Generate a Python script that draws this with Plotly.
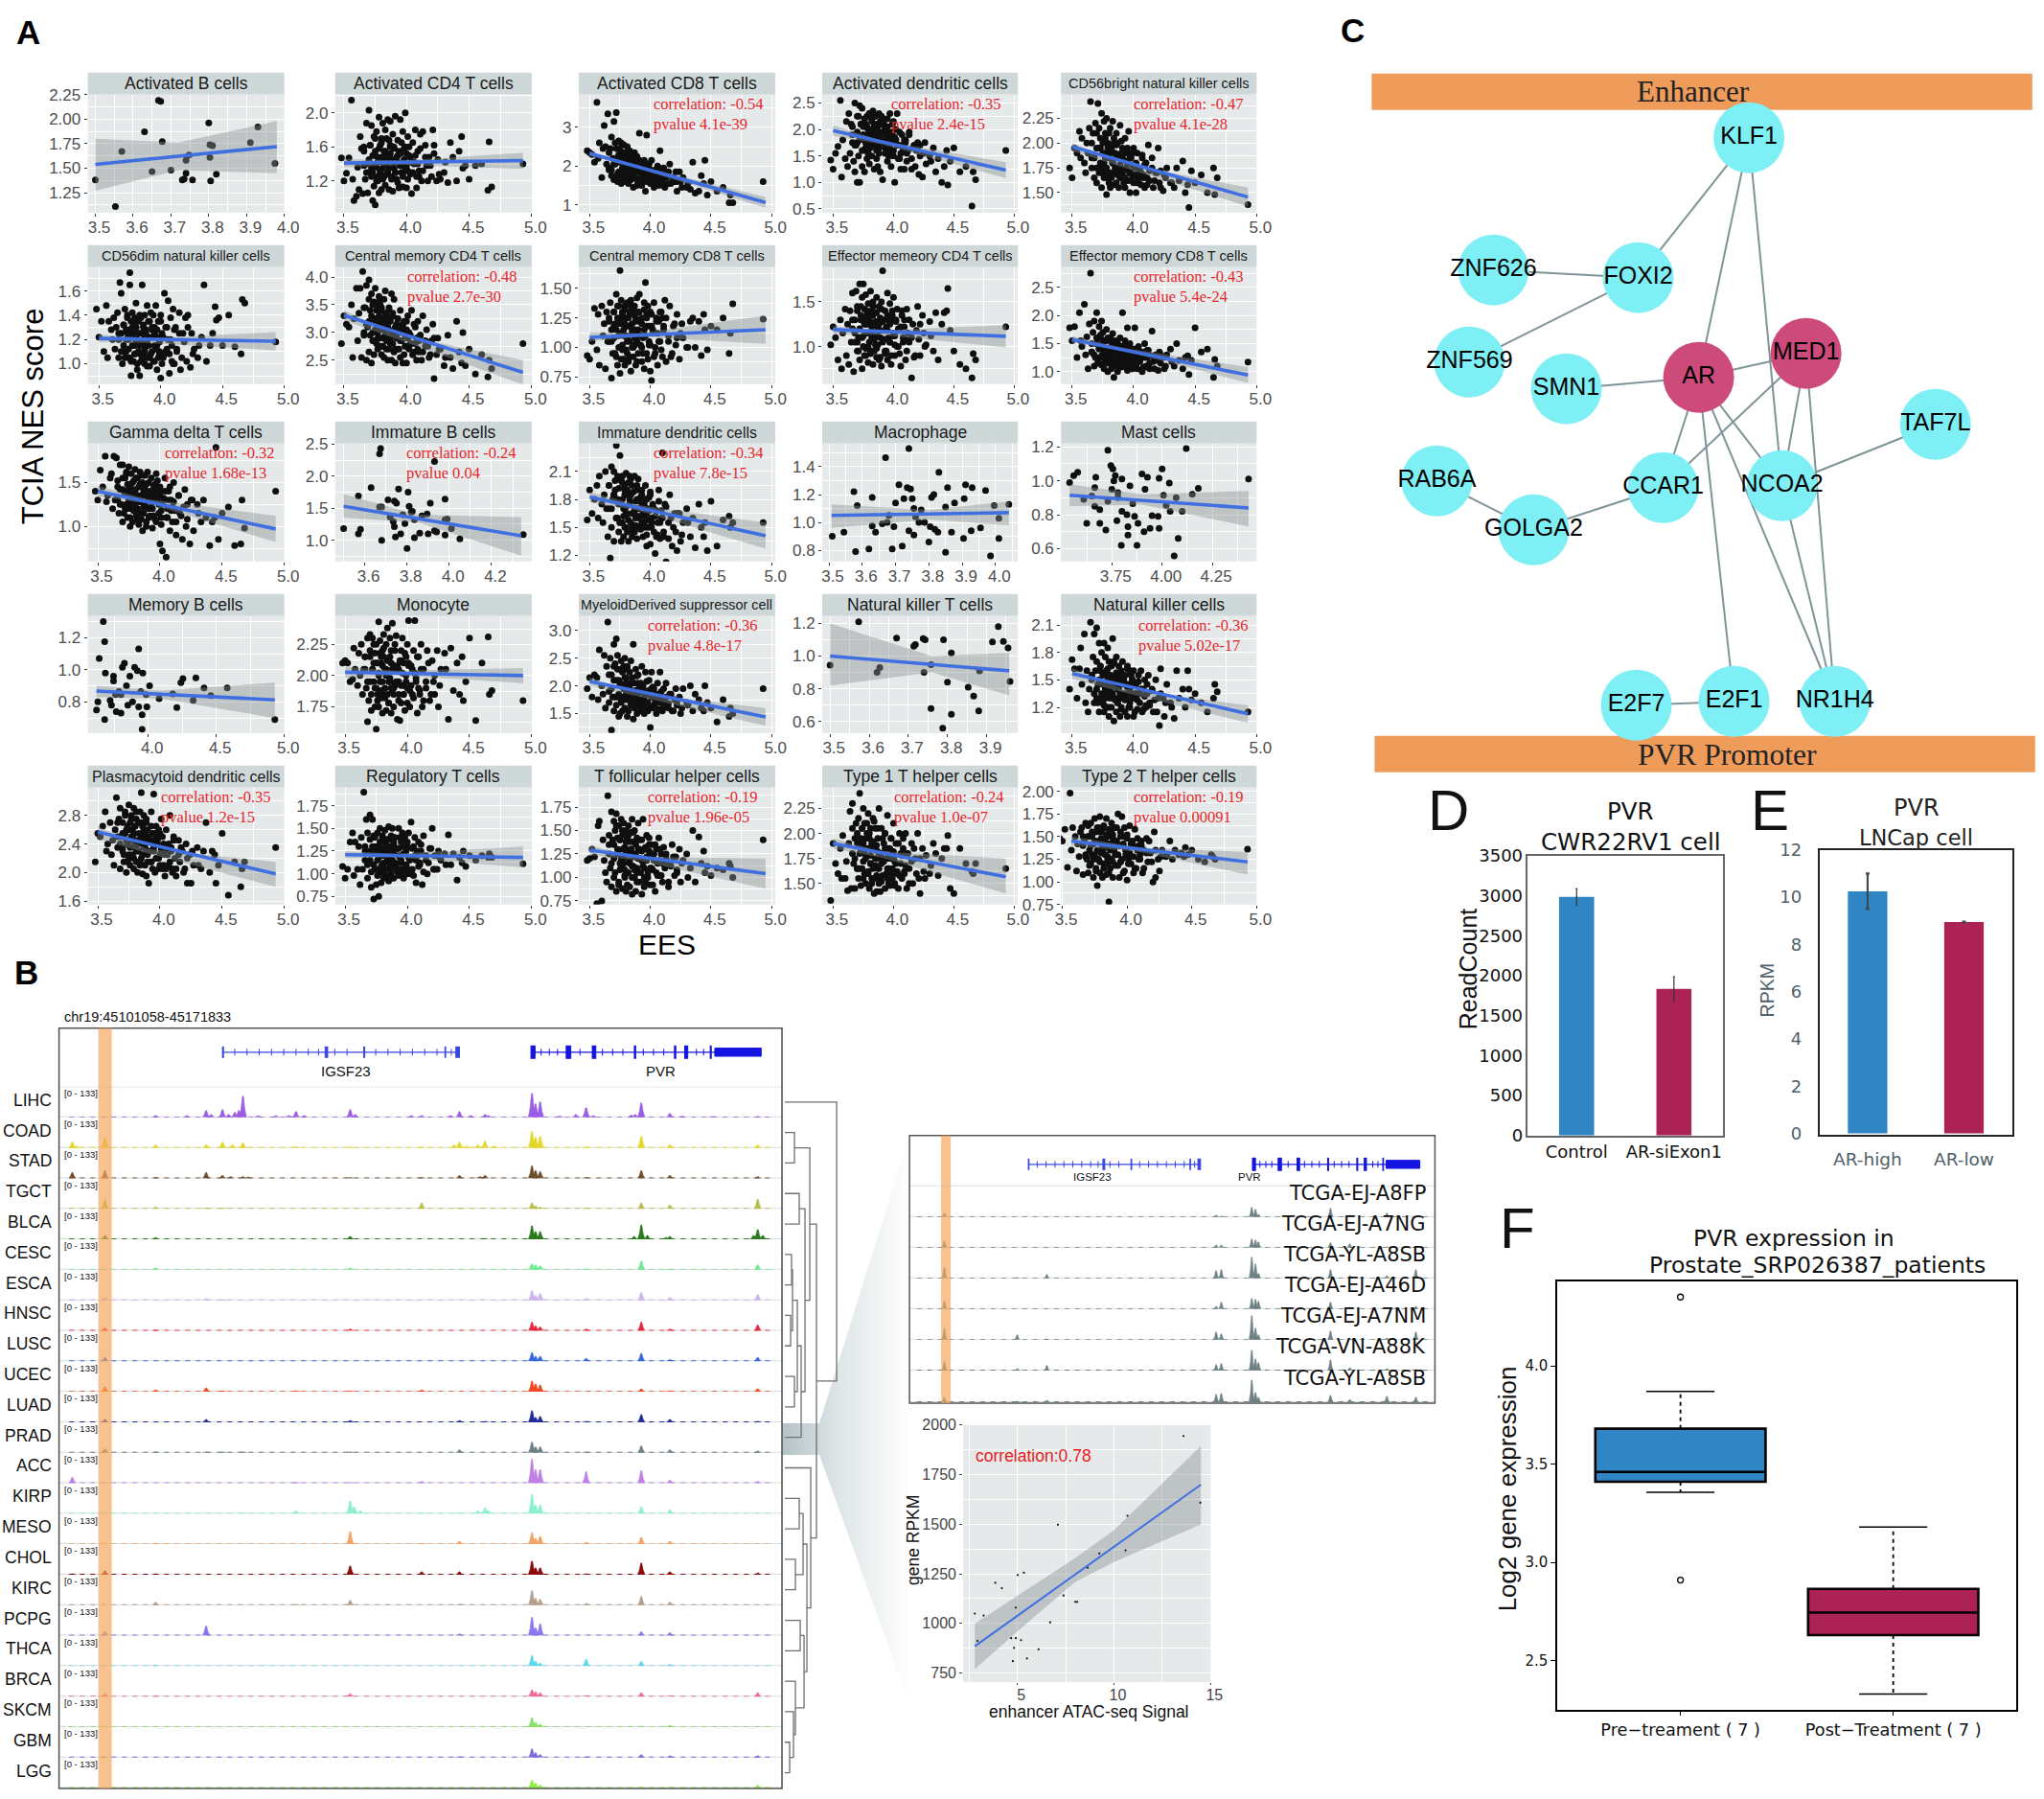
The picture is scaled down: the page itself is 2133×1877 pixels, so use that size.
import plotly.graph_objects as go

W, H = 2133, 1877
SANS = "Liberation Sans, Arial"
NARROW = SANS
WIDE = "DejaVu Sans"
SERIF = "Liberation Serif, serif"

# ---------- Panel A data ----------
EES = [3.48,3.50,3.52,3.54,3.56,3.57,3.58,3.60,3.61,3.62,
3.63,3.64,3.65,3.66,3.67,3.68,3.68,3.69,3.70,3.70,
3.71,3.72,3.72,3.73,3.74,3.74,3.75,3.75,3.76,3.76,
3.77,3.77,3.78,3.78,3.79,3.79,3.80,3.80,3.81,3.81,
3.82,3.82,3.83,3.83,3.84,3.84,3.85,3.85,3.86,3.86,
3.87,3.87,3.88,3.88,3.89,3.89,3.90,3.90,3.91,3.92,
3.93,3.93,3.94,3.95,3.95,3.96,3.97,3.97,3.98,3.99,
4.00,4.00,4.01,4.02,4.03,4.04,4.05,4.06,4.07,4.08,
4.09,4.10,4.11,4.12,4.13,4.15,4.16,4.18,4.20,4.21,
4.22,4.24,4.25,4.27,4.30,4.33,4.35,4.37,4.40,4.42,
4.44,4.45,4.47,4.50,4.55,4.60,4.65,4.66,4.68,4.93,
3.66,3.70,3.73,3.75,3.77,3.79,3.81,3.83,3.85,3.87,
3.89,3.91,3.93,3.95,3.97,3.99,4.01,4.03,4.06,4.10,
3.66,3.68,3.70,3.71,3.72,3.73,3.74,3.75,3.76,3.77,
3.78,3.79,3.80,3.80,3.81,3.82,3.83,3.84,3.85,3.86,
3.86,3.87,3.88,3.89,3.90,3.91,3.92,3.93,3.94,3.95,
3.96,3.97,3.98,3.99,4.00,4.01,4.02,4.04,4.05,4.07,
4.08,4.09,4.11,4.13,4.15,4.17,4.19,4.22,4.26,4.31]

ACT_B_X = [3.5,3.553,3.57,3.63,3.65,3.667,3.673,3.677,3.70,3.73,3.735,3.74,3.74,3.748,3.757,3.80,3.803,3.803,3.81,3.805,3.82,3.91,3.93,3.975]
ACT_B_Y = [1.38,1.11,1.67,1.87,1.465,2.19,2.18,1.77,1.48,1.38,1.39,1.58,1.45,1.635,1.38,1.96,1.61,1.74,1.73,1.37,1.44,1.76,1.92,1.55]

ACT_CD4 = [1.47,1.20,1.29,1.47,2.15,1.22,0.97,1.02,1.36,1.10,
1.72,1.58,1.05,1.60,1.22,1.88,1.40,1.06,2.03,1.30,
1.62,1.35,1.85,0.97,1.72,1.14,1.50,0.92,1.36,1.78,
1.20,1.48,1.95,1.06,1.62,1.30,1.10,1.70,1.42,1.88,
1.25,1.55,1.80,1.15,1.40,1.70,1.92,1.30,1.48,1.10,
1.62,1.90,1.22,1.45,1.75,1.08,1.35,1.58,1.96,1.22,
1.68,1.42,1.12,1.92,1.52,1.30,1.78,1.13,1.58,2.00,
1.38,1.12,1.72,1.50,1.28,1.05,1.65,1.42,1.80,1.12,
1.55,1.32,1.75,1.20,1.78,1.62,1.38,1.48,1.25,1.80,
1.62,1.20,1.45,1.22,1.30,1.18,1.65,1.48,1.20,1.55,
1.72,1.35,1.38,1.22,1.38,1.40,1.09,1.66,1.13,1.40,
1.38,1.42,1.30,1.55,1.25,1.45,1.35,1.50,1.28,1.60,
1.42,1.30,1.50,1.38,1.25,1.60,1.32,1.48,1.40,1.25,
1.55,1.30,1.45,1.62,1.25,1.50,1.38,1.70,1.20,1.42,
1.58,1.32,1.48,1.65,1.22,1.40,1.55,1.28,1.45,1.68,
1.35,1.52,1.25,1.42,1.60,1.30,1.48,1.18,1.55,1.38,
1.65,1.28,1.45,1.35,1.52,1.22,1.60,1.42,1.30,1.50,
1.25,1.40,1.58,1.32,1.48,1.20,1.38,1.52,1.28,1.42]
ACT_CD8 = [2.40,2.35,2.30,2.10,3.65,2.20,2.60,1.70,2.45,3.05,
2.50,2.05,3.35,1.95,2.45,1.75,2.75,2.20,3.15,1.65,
2.60,3.38,2.10,1.60,2.65,1.85,2.45,2.25,1.55,2.60,
1.95,2.35,1.75,2.55,2.10,1.60,2.30,1.90,2.50,1.70,
2.15,1.55,2.40,1.80,2.05,1.65,2.30,1.95,1.45,2.20,
1.70,2.35,1.85,2.10,1.50,2.25,1.95,1.65,2.85,1.80,
2.10,1.50,1.95,1.75,2.15,1.35,2.80,1.85,1.60,2.05,
1.55,1.90,2.15,1.70,1.45,1.90,1.65,2.00,1.50,2.40,
1.75,1.60,1.95,1.45,1.80,1.55,2.05,1.70,1.60,1.85,
1.35,1.85,1.60,1.70,1.45,1.40,2.10,1.30,1.35,1.75,
1.55,2.15,1.25,1.60,1.35,1.45,1.05,1.25,1.05,1.60,
1.90,2.05,1.80,2.20,1.70,2.10,1.85,1.95,1.75,2.05,
1.65,1.90,1.80,1.70,1.95,1.60,1.85,1.55,1.75,1.65,
2.35,1.90,2.20,2.05,2.45,1.75,2.30,2.10,1.85,2.25,
1.95,2.35,2.05,1.70,2.20,1.85,2.30,1.95,2.10,1.70,
2.25,1.80,2.05,1.90,1.65,2.15,1.85,2.00,1.75,1.60,
1.95,1.80,2.05,1.65,1.90,1.75,1.55,1.85,1.70,1.95,
1.60,1.80,1.50,1.70,1.85,1.55,1.70,1.60,1.45,1.55]
ACT_DC = [1.42,1.25,1.55,1.68,2.55,1.10,1.80,1.45,2.15,1.30,
2.30,1.55,2.10,1.75,1.40,2.50,1.20,1.70,1.00,2.25,
1.50,1.00,2.45,1.85,1.30,2.40,1.60,2.05,1.20,2.20,
1.75,2.10,1.45,2.25,1.90,1.60,2.30,1.35,2.00,1.70,
2.20,1.50,1.85,2.35,1.25,2.05,1.70,2.25,1.45,2.10,
1.95,1.30,2.30,1.65,2.15,1.20,1.80,2.25,1.05,2.10,
1.55,2.00,1.75,2.20,1.40,1.95,1.60,2.30,1.30,1.85,
1.50,2.15,1.00,1.80,2.30,1.45,1.95,1.25,1.70,1.60,
1.25,1.80,1.40,1.60,1.90,1.25,1.65,1.30,1.75,1.15,
1.70,1.10,1.55,1.35,1.50,1.65,1.20,1.45,1.00,1.30,
1.60,0.95,1.40,1.65,1.20,1.30,0.55,1.20,1.05,1.60,
1.90,1.75,2.10,1.85,1.65,2.00,1.80,1.95,1.70,2.05,
1.90,1.75,2.05,1.85,1.65,1.95,1.80,1.70,1.55,1.75,
2.05,1.70,1.95,2.25,1.80,2.10,1.60,1.90,2.20,1.75,
2.05,1.55,2.30,1.85,1.65,2.15,1.95,1.75,2.25,1.60,
2.00,1.85,1.55,2.10,1.75,1.95,2.20,1.65,1.85,2.05,
1.50,1.90,1.75,2.10,1.60,1.85,2.00,1.70,1.45,1.90,
1.65,1.80,1.55,1.95,1.45,1.70,1.60,1.50,1.75,1.40]
CD56BRIGHT = [1.75,1.65,1.95,1.90,2.12,1.85,2.05,1.80,1.70,2.00,
1.90,2.15,2.42,1.75,2.10,1.65,1.85,2.20,1.60,1.95,
2.40,1.70,2.15,1.80,2.30,1.55,2.00,1.75,2.22,1.65,
1.90,2.10,1.48,2.25,1.70,2.00,1.60,1.85,2.15,1.55,
1.95,1.65,2.22,1.80,1.58,2.05,1.75,1.90,1.60,2.10,
1.70,2.00,1.55,1.85,2.18,1.65,1.90,1.75,1.95,1.60,
2.05,1.55,1.75,1.90,1.62,2.12,1.70,1.50,1.85,1.65,
1.95,1.60,1.78,1.50,1.90,1.65,1.72,1.58,1.85,1.68,
1.55,1.80,1.65,1.98,1.62,1.75,1.55,1.70,1.95,1.60,
1.72,1.52,1.68,1.75,1.60,1.55,1.75,1.62,1.82,1.50,
1.58,1.35,1.72,1.60,1.68,1.50,1.75,1.48,1.65,1.38,
1.85,1.75,1.95,1.70,1.85,1.65,1.90,1.80,1.70,1.85,
1.75,1.85,1.65,1.80,1.70,1.90,1.75,1.60,1.70,1.80,
2.00,1.85,2.10,1.75,1.95,2.05,1.70,1.90,1.80,2.05,
1.75,1.95,1.85,2.10,1.70,1.92,1.80,2.00,1.72,1.88,
1.98,1.68,1.85,1.78,2.02,1.70,1.90,1.65,1.82,1.95,
1.72,1.85,1.62,1.78,1.92,1.68,1.80,1.60,1.75,1.88,
1.65,1.78,1.58,1.72,1.85,1.62,1.70,1.55,1.65,1.60]
CD56DIM = [1.45,1.22,1.35,1.10,1.48,1.05,1.35,1.28,1.20,1.38,
1.12,1.30,1.42,1.05,1.67,1.25,1.58,1.00,1.32,1.15,
1.45,1.10,1.28,1.40,1.05,1.20,1.75,1.65,0.90,1.35,
1.15,1.42,1.02,1.25,1.38,1.08,1.30,1.50,0.95,1.20,
1.35,1.10,0.90,1.40,1.25,1.02,1.65,1.18,1.32,1.08,
1.40,1.00,1.28,1.15,1.48,1.05,1.35,1.22,0.98,1.42,
1.10,1.30,1.40,1.02,1.25,1.48,1.15,0.95,1.35,1.08,
0.88,1.40,1.22,1.05,1.58,1.30,1.12,1.52,0.92,1.38,
1.15,1.45,1.00,1.30,1.10,1.42,0.95,1.25,1.38,1.02,
1.40,0.97,1.25,1.12,1.05,1.22,1.65,1.02,1.15,1.25,
1.47,1.36,1.38,1.15,1.40,1.14,1.08,1.53,1.50,1.18,
1.20,1.10,1.25,1.05,1.30,1.15,1.20,1.08,1.25,1.12,
1.18,1.05,1.28,1.15,1.22,1.10,1.25,1.08,1.20,1.00,
1.25,1.10,1.32,1.05,1.20,1.38,1.12,1.28,1.02,1.22,
1.35,1.08,1.18,1.30,1.00,1.25,1.15,1.38,1.05,1.20,
1.30,1.10,1.25,0.98,1.15,1.35,1.08,1.22,1.02,1.30,
1.12,1.28,1.05,1.18,1.35,1.00,1.22,1.10,1.30,1.08,
1.20,1.02,1.28,1.12,1.25,1.05,1.18,1.30,1.08,1.15]
CM_CD4 = [2.80,3.30,3.15,3.10,3.50,2.55,3.25,3.80,2.85,3.35,
3.80,2.55,4.10,2.95,3.45,2.50,3.85,3.10,3.95,2.65,
3.40,2.45,3.70,3.00,2.60,3.55,3.25,3.80,2.80,3.50,
3.10,2.70,3.65,3.30,2.90,3.50,2.60,3.40,3.05,2.75,
3.60,2.55,3.20,3.75,2.85,3.30,2.50,3.10,3.45,2.70,
3.25,2.90,3.70,2.50,3.35,2.80,3.05,3.60,2.45,3.15,
2.70,3.25,3.00,2.55,3.40,2.85,3.10,2.45,3.20,2.75,
3.05,2.45,3.30,2.70,2.95,3.40,2.60,3.15,2.80,2.50,
3.20,2.65,2.95,2.50,3.30,2.75,3.05,2.55,2.85,3.15,
2.17,2.60,2.90,2.70,2.40,2.95,2.55,2.35,3.20,2.65,
2.45,3.00,2.40,2.70,2.25,2.60,2.20,2.50,2.35,2.80,
3.00,3.20,2.85,3.05,2.90,3.15,2.75,2.95,3.10,2.80,
2.95,2.70,3.05,2.85,3.00,2.75,2.90,2.80,2.65,2.85,
3.45,3.15,3.60,2.95,3.30,3.50,2.85,3.20,3.40,3.00,
3.55,2.75,3.25,3.45,2.90,3.15,3.35,2.70,3.05,3.40,
2.85,3.20,3.00,3.30,2.65,3.10,2.90,3.25,2.70,3.05,
2.85,3.15,2.60,2.95,3.20,2.75,3.00,2.80,2.60,3.10,
2.90,2.70,2.95,2.65,2.85,2.75,2.60,2.90,2.70,2.55]
CM_CD8 = [0.93,0.90,1.05,1.33,0.98,1.28,0.85,1.35,1.10,1.20,
0.82,1.30,1.05,1.22,1.38,0.74,1.15,0.95,1.30,1.08,
1.20,0.92,1.45,0.85,1.10,1.35,1.65,0.78,1.25,1.40,
1.02,1.30,0.90,1.15,1.35,0.85,1.10,1.25,0.95,1.38,
1.18,0.88,1.30,1.05,1.40,0.80,1.20,1.00,1.32,0.92,
1.15,1.35,0.85,1.25,1.05,1.42,0.95,1.30,1.45,1.10,
0.88,1.25,1.08,1.38,0.82,1.55,1.18,0.95,1.35,1.02,
1.30,0.80,0.72,1.15,1.38,1.00,1.25,0.85,1.22,1.05,
1.30,0.92,1.18,1.40,0.88,1.10,1.35,0.95,1.20,1.02,
1.28,0.90,1.12,1.08,1.00,1.22,1.25,1.00,1.22,0.93,
1.28,1.15,0.98,1.18,1.15,1.25,0.95,1.12,1.37,1.24,
1.05,1.18,1.25,1.12,0.98,1.20,1.08,1.28,1.15,1.02,
1.10,1.22,1.00,1.15,1.28,1.05,1.18,0.92,1.12,1.25,
1.25,1.05,1.30,0.95,1.15,1.35,1.00,1.20,0.90,1.28,
1.10,1.32,0.98,1.18,1.05,1.25,0.92,1.35,1.12,1.00,
1.28,1.08,1.22,0.88,1.15,1.30,1.02,1.20,0.95,1.32,
1.10,1.25,0.90,1.18,1.02,1.28,1.12,0.95,1.22,1.05,
1.30,0.98,1.15,1.25,1.05,0.92,1.18,1.08,1.20,1.00]
EM_CD4 = [1.02,1.22,1.10,0.85,1.30,0.75,1.15,1.42,0.90,1.25,
0.80,1.40,1.05,1.60,0.72,1.30,1.15,1.62,0.95,1.45,
1.10,1.70,0.85,1.35,1.55,0.75,1.70,1.00,1.25,1.42,
0.90,1.58,1.15,1.35,0.82,1.48,1.05,1.30,1.62,0.95,
1.40,1.10,0.80,1.50,1.25,0.95,1.38,1.12,1.55,0.88,
1.28,1.02,1.45,0.85,1.32,1.18,0.78,1.50,1.85,1.08,
0.92,1.40,1.22,1.60,0.85,1.30,1.05,1.48,0.80,1.35,
1.12,1.55,0.90,1.28,1.42,1.00,1.20,0.78,1.40,1.10,
1.30,0.85,1.42,1.15,1.05,0.65,1.25,0.90,1.45,1.08,
0.90,1.35,1.15,1.02,1.28,0.95,1.38,0.85,1.25,1.38,
1.40,1.65,1.18,0.95,0.80,0.75,0.65,0.92,0.85,1.22,
1.20,1.05,1.30,1.12,0.98,1.25,1.15,1.35,1.02,1.20,
1.10,1.28,0.95,1.18,1.05,1.30,1.12,1.00,1.22,1.08,
1.30,1.05,1.40,0.95,1.20,1.45,1.10,1.30,0.90,1.25,
1.40,1.00,1.15,1.35,0.92,1.22,1.45,1.08,1.28,0.98,
1.38,1.12,1.25,0.88,1.42,1.05,1.30,1.18,0.95,1.35,
1.10,1.25,0.90,1.40,1.15,1.02,1.30,1.20,0.92,1.35,
1.05,1.22,0.95,1.30,1.10,0.88,1.18,1.25,1.00,1.12]
EM_CD8 = [1.78,1.55,1.80,1.25,2.05,1.55,1.45,2.20,1.30,1.62,
1.05,1.85,2.75,1.35,1.70,1.10,1.90,1.25,2.05,1.50,
1.15,1.80,1.40,1.60,1.12,1.90,1.30,1.70,1.05,1.55,
1.40,1.20,1.75,1.30,1.00,1.60,1.35,1.15,1.55,1.25,
1.45,1.05,1.68,1.20,0.90,1.40,1.30,1.55,1.10,1.25,
1.50,1.00,1.35,1.15,1.60,1.25,1.45,1.08,2.05,1.30,
1.10,1.48,1.20,1.78,1.02,1.35,1.15,1.50,1.25,1.05,
1.40,1.15,1.78,1.28,1.05,1.45,1.20,1.35,1.00,1.28,
1.50,1.10,1.25,1.38,1.05,1.72,1.18,1.30,1.02,1.35,
1.15,1.25,1.05,1.30,1.40,1.10,1.50,1.20,1.05,1.25,
1.28,0.95,1.20,1.78,1.35,1.40,0.90,1.22,1.10,1.17,
1.35,1.50,1.25,1.40,1.18,1.30,1.42,1.22,1.35,1.15,
1.28,1.40,1.20,1.32,1.12,1.25,1.38,1.18,1.28,1.08,
1.50,1.30,1.60,1.20,1.42,1.65,1.28,1.50,1.15,1.38,
1.55,1.22,1.42,1.30,1.60,1.12,1.35,1.48,1.20,1.40,
1.25,1.50,1.10,1.35,1.45,1.18,1.30,1.55,1.08,1.28,
1.42,1.15,1.35,1.05,1.25,1.40,1.12,1.30,1.18,1.35,
1.08,1.25,1.38,1.15,1.28,1.05,1.20,1.30,1.10,1.18]
GAMMA_DELTA = [1.40,1.30,1.64,1.45,1.80,1.28,1.35,1.55,1.60,1.20,
1.80,1.30,1.78,1.52,1.15,1.42,1.70,1.25,1.70,1.05,
1.40,1.55,1.20,1.62,1.10,1.48,1.30,1.68,1.00,1.45,
1.25,1.60,1.35,1.05,1.52,1.18,1.42,1.65,1.12,1.30,
1.55,1.20,1.02,1.45,1.35,1.62,1.08,1.28,1.50,0.95,
1.40,1.15,1.58,1.25,1.00,1.48,1.30,1.62,1.10,1.40,
1.22,1.55,0.98,1.35,1.12,1.48,1.60,1.05,1.30,1.40,
0.80,1.45,1.10,0.72,1.30,1.55,0.65,1.20,1.40,0.95,
1.30,1.05,1.50,1.18,0.90,1.35,1.15,0.85,1.42,1.00,
1.25,0.80,1.30,0.95,1.25,1.05,1.30,1.10,0.78,1.05,
1.10,1.90,0.85,1.15,1.22,0.78,0.80,1.30,0.98,1.40,
1.30,1.42,1.25,1.38,1.20,1.35,1.15,1.28,1.45,1.22,
1.35,1.20,1.30,1.12,1.40,1.25,1.18,1.32,1.10,1.22,
1.45,1.25,1.55,1.15,1.38,1.60,1.20,1.42,1.10,1.32,
1.50,1.18,1.40,1.25,1.55,1.08,1.30,1.48,1.15,1.35,
1.58,1.22,1.42,1.05,1.30,1.50,1.12,1.35,1.20,1.45,
1.08,1.28,1.52,1.15,1.35,1.02,1.25,1.40,1.10,1.30,
1.45,1.18,1.28,1.05,1.35,1.12,1.22,1.08,1.30,1.15]
IMM_B_X = [3.5,3.57,3.58,3.57,3.63,3.67,3.675,3.68,3.67,3.68,3.71,3.74,3.75,3.745,3.74,3.72,3.76,3.735,3.77,3.8,3.805,3.81,3.82,3.79,3.78,3.825,3.835,3.835,3.86,3.87,3.895,3.91,3.93,3.9,3.94,3.98,3.98,3.99,3.98,4.01,4.05,4.35,3.93]
IMM_B_Y = [1.18,1.69,1.17,1.10,1.82,2.35,2.43,1.0,1.52,1.52,1.63,1.61,1.58,1.05,1.21,1.36,1.8,1.29,1.1,0.87,1.75,1.53,1.44,1.26,1.4,1.45,1.32,1.04,1.11,1.38,1.41,1.58,2.23,1.1,1.13,1.64,1.32,1.33,1.08,1.18,1.02,1.09,1.15]
IMM_DC = [1.58,1.90,1.65,1.80,1.95,1.60,2.05,1.75,1.55,1.85,
2.10,1.70,1.40,1.95,1.17,2.15,1.50,1.80,2.10,1.35,
1.90,2.38,1.60,2.05,1.45,1.75,2.27,1.55,2.00,1.35,
1.80,2.05,1.40,1.70,1.95,1.50,2.08,1.65,1.85,1.45,
1.98,1.35,1.75,2.05,1.55,1.85,1.40,1.95,1.65,1.50,
2.05,1.45,1.78,1.60,1.90,1.38,1.70,2.02,1.50,1.82,
1.55,1.90,1.40,1.75,1.62,1.95,1.30,1.80,1.50,1.68,
1.85,1.32,1.60,1.75,1.45,1.22,1.68,1.55,1.90,1.38,
1.60,2.30,1.40,1.75,1.13,1.55,1.85,1.30,1.65,1.45,
1.25,1.65,1.35,1.55,1.70,1.40,1.60,1.28,1.75,1.50,
1.40,1.55,1.25,1.78,1.30,1.58,1.62,1.50,1.55,1.55,
1.70,1.85,1.60,1.78,1.55,1.90,1.65,1.75,1.50,1.68,
1.80,1.60,1.72,1.50,1.65,1.82,1.55,1.70,1.42,1.60,
1.95,1.70,1.85,2.00,1.60,1.80,1.92,1.55,1.75,1.98,
1.62,1.85,1.50,1.72,1.90,1.58,1.80,2.02,1.65,1.45,
1.88,1.70,1.52,1.95,1.62,1.78,1.48,1.85,1.65,1.55,
1.80,1.42,1.70,1.58,1.88,1.50,1.72,1.62,1.40,1.78,
1.55,1.68,1.45,1.72,1.38,1.60,1.50,1.65,1.42,1.55]
MACRO_X = [3.51,3.545,3.575,3.58,3.585,3.62,3.63,3.63,3.64,3.66,3.67,3.675,3.68,3.69,3.695,3.70,3.71,3.72,3.725,3.735,3.74,3.745,3.74,3.75,3.755,3.755,3.76,3.77,3.777,3.787,3.80,3.804,3.808,3.815,3.818,3.83,3.827,3.85,3.85,3.856,3.868,3.877,3.904,3.906,3.91,3.927,3.93,3.955,3.97,3.985,3.996,4.01,4.01,4.04]
MACRO_Y = [0.90,0.93,1.22,0.79,1.12,0.81,1.18,0.975,0.93,0.99,1.465,1.0,1.05,0.81,0.97,1.14,1.27,0.83,1.17,1.25,1.53,1.24,0.94,1.17,0.91,1.10,1.04,1.0,1.09,1.0,0.86,0.97,1.18,1.2,0.95,1.36,0.93,1.11,0.785,1.25,0.93,1.14,0.885,1.17,1.27,0.94,1.25,0.96,1.23,0.76,1.12,0.885,1.03,1.13]
MAST_X = [3.54,3.56,3.58,3.61,3.625,3.65,3.665,3.665,3.67,3.69,3.69,3.72,3.73,3.73,3.745,3.75,3.755,3.76,3.767,3.775,3.78,3.78,3.797,3.80,3.80,3.825,3.83,3.83,3.84,3.854,3.863,3.875,3.88,3.9,3.91,3.915,3.927,3.94,3.95,3.98,3.985,3.985,4.0,4.007,4.02,4.036,4.04,4.06,4.07,4.08,4.1,4.12,4.15,4.18,4.43]
MAST_Y = [0.99,1.03,1.05,0.89,0.75,0.91,0.85,0.96,1.02,0.75,0.83,0.71,1.18,0.88,1.09,0.95,1.07,1.0,1.03,0.765,0.93,0.90,0.62,1.01,0.82,0.8,0.73,0.68,0.97,0.865,0.79,0.62,0.75,1.04,0.70,0.95,1.02,0.72,0.795,0.79,1.015,0.72,1.07,0.915,0.855,0.987,0.82,0.558,0.90,0.66,0.82,1.19,0.92,0.955,1.01]
MEM_B_X = [3.67,3.68,3.64,3.685,3.62,3.63,3.68,3.72,3.745,3.745,3.73,3.76,3.765,3.785,3.80,3.80,3.825,3.81,3.84,3.865,3.85,3.885,3.90,3.92,3.93,3.945,3.93,3.96,3.955,3.955,3.985,3.99,4.01,4.08,4.18,4.21,4.24,4.255,4.33,4.35,4.41,4.46,4.58,4.93]
MEM_B_Y = [1.30,1.175,1.07,0.98,0.75,0.80,0.69,0.81,0.96,0.93,0.78,0.845,0.74,0.865,0.73,0.845,1.04,1.015,0.90,0.96,0.78,0.80,1.015,0.995,1.13,0.865,0.77,0.98,0.72,0.63,0.845,0.77,0.90,0.82,0.85,0.765,0.92,0.945,0.81,0.95,0.887,0.84,0.887,0.69]
MONOCYTE = [2.10,2.12,2.10,1.95,1.97,2.22,2.05,1.92,2.18,2.00,
2.25,1.85,2.05,2.15,1.90,1.63,2.30,1.80,2.15,2.33,
1.72,2.05,2.30,1.95,1.75,2.18,1.57,2.25,1.85,2.10,
2.43,1.75,2.28,1.95,2.10,1.82,2.20,1.70,2.15,2.33,
1.90,2.05,2.25,1.72,2.38,1.85,2.12,1.78,2.30,1.95,
2.20,1.70,2.42,1.88,2.08,1.75,2.25,1.92,2.32,1.65,
2.05,1.85,1.64,2.20,1.78,2.30,1.92,2.10,1.72,2.15,
1.90,2.25,2.44,1.75,2.08,1.85,2.20,2.44,1.95,1.70,
2.15,1.85,2.25,1.75,2.05,1.90,2.20,1.80,2.12,1.95,
1.85,2.20,1.75,2.05,2.18,1.65,2.22,1.88,2.10,1.85,
2.15,1.80,1.95,2.30,1.64,2.10,2.31,1.85,1.88,1.80,
2.05,1.95,2.10,1.90,2.00,2.15,1.85,2.05,1.95,2.10,
1.90,2.05,1.95,2.12,1.85,2.00,2.08,1.92,2.02,1.88,
2.15,1.95,2.20,1.85,2.05,2.25,1.90,2.10,1.80,2.02,
2.18,1.88,2.08,1.95,2.22,1.82,2.00,2.12,1.78,1.98,
2.15,1.90,2.05,1.85,2.20,1.95,2.08,1.80,2.12,1.92,
2.02,1.85,2.18,1.95,1.78,2.10,1.88,2.05,1.82,1.98,
2.15,1.90,2.05,1.80,1.95,2.10,1.85,2.00,1.92,2.05]
MDSC = [1.95,2.15,1.80,2.20,2.15,1.75,2.65,2.00,1.85,2.55,
1.60,2.35,3.15,1.70,2.50,1.20,2.20,1.80,2.75,1.55,
2.40,2.85,1.65,2.55,1.45,2.10,2.30,1.50,2.45,1.75,
2.00,1.55,2.35,1.80,2.50,1.60,2.15,1.85,1.45,2.35,
1.95,1.55,2.25,1.75,2.45,1.65,2.05,1.85,1.40,2.75,
1.90,1.60,2.30,1.75,2.05,1.50,2.20,1.70,1.95,1.55,
2.35,1.65,2.00,1.80,1.50,2.25,1.70,1.90,1.55,2.10,
1.25,1.85,2.25,1.60,1.95,1.75,1.50,2.05,1.70,2.25,
1.80,1.55,1.95,1.70,2.05,1.60,1.85,1.55,1.75,1.95,
1.65,1.80,1.50,1.95,1.70,2.00,1.55,1.85,1.75,1.60,
1.55,2.00,1.70,1.60,1.35,1.75,1.45,1.60,1.50,1.95,
1.90,2.10,1.80,2.00,1.75,1.95,1.85,2.05,1.70,1.90,
1.80,1.95,1.75,1.90,1.70,1.85,1.95,1.65,1.80,1.75,
2.20,1.95,2.35,1.80,2.10,2.30,1.85,2.05,1.70,2.25,
1.95,2.15,1.75,2.05,2.30,1.80,1.95,1.68,2.15,1.85,
2.05,1.72,1.92,2.18,1.65,1.88,2.05,1.75,1.95,1.62,
1.85,2.08,1.70,1.92,1.60,1.80,1.98,1.68,1.85,1.58,
1.75,1.90,1.62,1.80,1.68,1.85,1.55,1.72,1.60,1.65]
NKT_X = [3.5,3.573,3.62,3.627,3.67,3.714,3.718,3.738,3.743,3.74,3.758,3.758,3.79,3.788,3.80,3.81,3.81,3.853,3.867,3.88,3.882,3.915,3.93,3.943,3.955,3.96]
NKT_Y = [0.945,1.21,0.90,0.93,1.11,1.06,1.07,1.107,1.10,0.90,0.948,0.68,1.10,0.56,0.84,1.02,0.645,0.81,0.755,0.665,0.91,1.087,1.18,1.09,1.05,0.845]
NK = [1.40,1.72,1.62,1.30,1.62,1.85,1.45,2.00,1.25,1.60,
1.15,1.40,2.13,1.50,1.75,1.25,2.00,1.60,2.07,1.30,
1.45,1.90,1.15,1.65,1.35,1.80,1.25,1.55,1.90,1.15,
1.75,1.40,1.60,1.20,1.85,1.35,1.70,1.10,1.55,1.30,
1.65,1.20,1.95,1.45,1.05,1.70,1.30,1.55,1.15,1.75,
1.40,1.25,1.65,1.50,1.10,1.35,1.60,1.20,1.70,1.45,
1.15,1.55,1.30,1.65,1.10,1.45,1.60,1.20,1.35,1.50,
1.10,1.60,1.30,1.45,1.18,1.55,1.35,1.60,1.15,1.40,
1.50,1.20,1.35,1.55,1.25,1.40,1.15,1.50,1.30,1.00,
1.62,1.30,1.10,1.45,1.25,1.08,1.60,1.30,1.40,1.20,
1.60,1.40,1.28,1.35,1.25,1.15,1.30,1.45,1.37,1.15,
1.55,1.40,1.60,1.45,1.30,1.52,1.40,1.35,1.50,1.42,
1.30,1.48,1.35,1.42,1.25,1.50,1.35,1.28,1.40,1.22,
1.55,1.35,1.70,1.25,1.50,1.65,1.30,1.45,1.22,1.58,
1.35,1.62,1.45,1.20,1.55,1.32,1.50,1.68,1.28,1.42,
1.58,1.25,1.40,1.55,1.18,1.35,1.50,1.28,1.45,1.62,
1.20,1.38,1.55,1.30,1.45,1.15,1.35,1.48,1.25,1.40,
1.18,1.32,1.45,1.22,1.38,1.28,1.15,1.35,1.25,1.20]
PDC = [2.15,2.55,2.50,2.65,2.85,2.30,2.40,2.70,2.25,2.45,
2.10,2.60,3.05,2.35,2.75,2.05,2.90,2.50,2.30,2.70,
2.15,2.55,2.85,2.00,2.65,2.40,2.95,2.20,2.70,2.10,
2.50,2.80,2.25,2.60,2.05,2.90,2.35,2.65,2.15,2.75,
2.45,2.00,2.70,2.30,2.85,2.15,3.12,2.50,1.98,2.65,
2.35,2.80,2.10,2.55,1.95,2.70,2.25,2.60,1.85,2.45,
2.85,2.15,2.55,3.10,2.30,2.00,2.65,2.20,2.45,2.05,
2.55,2.25,2.75,2.05,2.40,1.95,2.60,2.30,2.10,2.80,
2.35,2.00,2.50,2.20,1.95,2.45,2.15,2.30,2.05,2.40,
1.85,2.25,1.85,2.10,2.35,2.05,2.30,2.70,2.00,2.30,
2.25,1.85,2.10,2.55,1.68,2.15,1.80,2.05,2.15,2.35,
2.50,2.35,2.60,2.25,2.45,2.55,2.30,2.40,2.20,2.50,
2.30,2.45,2.15,2.35,2.50,2.20,2.30,2.10,2.25,2.05,
2.70,2.40,2.55,2.25,2.80,2.45,2.15,2.60,2.35,2.75,
2.50,2.20,2.65,2.40,2.85,2.30,2.55,2.10,2.70,2.45,
2.25,2.60,2.35,2.75,2.15,2.50,2.30,2.65,2.05,2.45,
2.55,2.20,2.40,2.60,2.10,2.35,2.50,2.25,2.05,2.40,
2.15,2.30,2.45,2.05,2.25,2.35,2.00,2.20,2.30,2.10]
TREG = [1.08,0.95,1.05,1.35,1.45,0.98,1.35,1.05,1.30,0.88,
1.40,1.05,1.90,1.25,1.60,0.95,1.45,1.12,1.65,1.15,
0.85,1.60,1.30,0.72,1.40,1.05,1.25,0.88,1.45,1.15,
0.75,1.30,1.50,1.02,1.28,0.90,1.42,1.10,1.35,0.95,
1.48,1.05,1.25,0.98,1.38,1.15,1.52,0.92,1.30,1.08,
1.42,1.00,1.25,1.50,0.95,1.32,1.12,1.40,1.05,1.28,
1.50,0.98,1.18,1.35,1.05,1.45,1.22,0.95,1.40,1.10,
1.30,1.00,1.45,1.15,1.57,1.05,1.30,1.40,0.90,1.20,
1.35,1.10,1.25,0.88,1.42,1.15,1.00,1.28,1.50,1.05,
1.20,1.05,1.25,1.15,1.22,1.43,1.10,1.22,0.93,1.18,
1.12,1.25,1.08,1.20,1.15,1.20,1.18,1.22,1.18,1.11,
1.15,1.25,1.10,1.30,1.05,1.20,1.12,1.28,1.18,1.08,
1.22,1.10,1.28,1.15,1.05,1.25,1.18,1.00,1.20,1.12,
1.30,1.10,1.38,1.02,1.22,1.42,1.05,1.28,0.98,1.18,
1.35,1.08,1.25,1.40,1.00,1.20,1.32,1.12,1.38,1.05,
1.25,0.95,1.15,1.35,1.08,1.28,1.02,1.20,1.40,1.12,
1.30,1.00,1.22,1.10,1.35,1.05,1.18,1.28,0.98,1.15,
1.25,1.08,1.32,1.02,1.20,1.12,1.28,1.05,1.18,1.10]
TFH = [1.18,1.20,1.30,1.22,0.72,1.55,1.60,0.75,1.40,1.18,
1.05,0.95,1.87,1.25,1.10,1.70,0.90,1.40,1.60,1.00,
1.50,1.68,0.85,1.30,1.55,0.92,1.40,1.08,1.62,1.20,
0.88,1.45,1.15,1.58,1.00,1.32,1.50,0.85,1.25,1.42,
1.05,1.55,1.18,0.90,1.48,1.30,0.82,1.62,1.12,1.38,
1.00,1.50,1.25,0.85,1.42,1.10,1.30,1.58,0.95,1.20,
1.40,0.82,1.62,1.10,1.30,0.95,1.20,1.45,1.05,1.28,
0.92,1.25,1.35,1.08,1.18,0.85,1.30,1.15,1.42,1.02,
1.25,0.95,1.32,1.10,1.20,0.90,1.15,1.35,1.02,1.22,
1.08,1.30,0.95,1.18,1.25,1.10,1.50,0.95,1.43,1.15,
1.28,1.05,1.12,1.02,1.10,1.08,1.15,1.12,1.00,1.40,
1.35,1.20,1.42,1.15,1.30,1.08,1.25,1.38,1.12,1.22,
1.05,1.30,1.18,1.00,1.22,1.35,1.10,1.25,1.02,1.15,
1.45,1.15,1.35,1.05,1.55,1.25,0.95,1.40,1.12,1.50,
1.20,1.02,1.38,1.28,0.92,1.45,1.15,1.30,1.00,1.25,
1.48,1.08,1.35,0.95,1.20,1.40,1.05,1.28,1.12,0.90,
1.32,1.18,1.00,1.42,1.10,1.25,0.92,1.35,1.05,1.18,
1.30,1.02,1.15,1.25,0.95,1.12,1.22,1.05,1.15,1.00]
TH1 = [1.33,1.90,1.70,1.60,1.85,1.55,1.98,1.55,1.72,1.43,
1.90,2.22,1.45,2.30,1.70,1.95,1.45,2.10,1.65,2.00,
1.55,2.40,1.80,1.48,2.05,1.65,2.25,1.90,1.60,2.10,
1.75,1.50,2.00,1.60,1.85,2.20,1.45,1.95,1.70,2.05,
1.55,1.90,2.15,1.65,1.40,1.85,2.05,1.55,1.75,1.42,
1.95,1.65,2.25,1.50,1.80,1.42,2.05,1.70,1.58,1.90,
1.45,2.00,1.75,1.55,2.18,1.65,1.85,1.48,1.95,1.60,
1.75,2.10,1.50,1.90,1.62,1.45,2.00,1.70,1.55,1.85,
1.60,2.00,1.45,1.80,1.65,1.90,1.50,1.75,2.00,1.55,
1.40,1.85,1.62,1.78,1.60,1.90,1.80,1.58,1.75,1.85,
1.85,1.98,1.45,1.40,1.85,1.70,1.62,1.60,1.70,1.65,
1.80,1.65,1.95,1.72,1.85,1.60,1.78,1.90,1.68,1.82,
1.55,1.75,1.85,1.65,1.78,1.55,1.72,1.60,1.80,1.68,
2.05,1.75,1.90,2.15,1.65,1.85,2.05,1.55,1.80,1.95,
2.10,1.62,1.85,2.00,1.70,1.50,1.92,2.12,1.75,1.58,
1.88,2.05,1.65,1.80,1.52,1.95,1.72,2.00,1.60,1.85,
1.50,1.75,1.95,1.65,1.82,1.48,1.70,1.90,1.58,1.78,
1.95,1.62,1.80,1.50,1.72,1.85,1.60,1.75,1.55,1.68]
TH2 = [1.48,1.45,1.58,1.16,1.98,1.35,1.60,1.50,1.12,1.42,
1.28,1.55,1.60,1.08,1.45,1.30,1.65,1.25,1.50,1.10,
1.35,1.65,1.20,1.50,1.05,1.42,1.70,1.30,1.55,1.15,
1.60,0.96,1.45,1.25,1.72,1.10,1.35,1.55,1.05,1.40,
1.62,1.20,1.45,1.30,1.70,1.08,1.50,1.28,0.78,1.58,
1.15,1.42,1.65,1.25,1.52,1.05,1.35,1.60,1.18,1.45,
1.75,1.30,1.05,1.55,1.22,1.72,1.40,1.10,1.60,1.30,
1.02,1.48,1.30,1.62,1.20,1.42,1.28,1.58,1.15,1.35,
1.40,1.25,1.45,1.10,1.35,1.48,1.22,1.32,1.00,1.55,
1.05,1.25,1.12,1.35,1.28,1.45,1.25,1.35,1.30,1.32,
1.28,1.38,1.30,1.35,1.25,1.22,1.30,1.28,1.25,1.36,
1.40,1.50,1.30,1.45,1.25,1.55,1.35,1.42,1.20,1.38,
1.48,1.30,1.40,1.22,1.50,1.35,1.25,1.42,1.15,1.30,
1.50,1.28,1.62,1.18,1.40,1.55,1.25,1.45,1.12,1.35,
1.60,1.22,1.48,1.32,1.58,1.15,1.38,1.52,1.25,1.42,
1.10,1.35,1.55,1.22,1.45,1.30,1.60,1.18,1.40,1.50,
1.25,1.42,1.12,1.35,1.52,1.20,1.32,1.45,1.10,1.38,
1.48,1.25,1.40,1.15,1.32,1.45,1.22,1.35,1.28,1.30]

T_35_50 = ["3.5","4.0","4.5","5.0"]
# title, title size, xs, ys, x range, x ticks, y range, y ticks, fit x, fit y, band x, band up, band low, note1, note2, note dx
PANELS = [
["Activated B cells",17.5,ACT_B_X,ACT_B_Y,[3.48,4.0],["3.5","3.6","3.7","3.8","3.9","4.0"],[1.05,2.25],["1.25","1.50","1.75","2.00","2.25"],[3.5,3.98],[1.54,1.72],[3.5,3.72,3.98],[1.80,1.76,1.98],[1.27,1.48,1.45],None,None,0],
["Activated CD4 T cells",17.5,EES,ACT_CD4,[3.43,5.0],T_35_50,[0.83,2.215],["1.2","1.6","2.0"],[3.5,4.93],[1.41,1.44],[3.5,3.95,4.93],[1.46,1.44,1.53],[1.36,1.39,1.34],None,None,0],
["Activated CD8 T cells",17.5,EES,ACT_CD8,[3.41,5.03],T_35_50,[0.8,3.85],["1","2","3"],[3.5,4.95],[2.33,1.06],[3.5,3.9,4.95],[2.38,2.0,1.2],[2.26,1.93,0.92],"correlation: -0.54","pvalue 4.1e-39",76],
["Activated dendritic cells",17.5,EES,ACT_DC,[3.41,5.03],T_35_50,[0.43,2.66],["0.5","1.0","1.5","2.0","2.5"],[3.5,4.93],[1.98,1.23],[3.5,3.9,4.93],[2.08,1.79,1.38],[1.88,1.72,1.08],"correlation: -0.35","pvalue 2.4e-15",70],
["CD56bright natural killer cells",14.5,EES,CD56BRIGHT,[3.41,5.0],T_35_50,[1.30,2.49],["1.50","1.75","2.00","2.25"],[3.5,4.93],[1.965,1.455],[3.5,3.9,4.93],[2.0,1.80,1.55],[1.92,1.76,1.36],"correlation: -0.47","pvalue 4.1e-28",74],
["CD56dim natural killer cells",14.5,EES,CD56DIM,[3.41,5.0],T_35_50,[0.832,1.797],["1.0","1.2","1.4","1.6"],[3.5,4.93],[1.208,1.185],[3.5,3.9,4.93],[1.24,1.21,1.26],[1.18,1.17,1.11],None,None,0],
["Central memory CD4 T cells",14.7,EES,CM_CD4,[3.43,5.0],T_35_50,[2.07,4.18],["2.5","3.0","3.5","4.0"],[3.5,4.93],[3.31,2.28],[3.5,3.9,4.93],[3.40,2.98,2.50],[3.22,2.9,2.06],"correlation: -0.48","pvalue 2.7e-30",73],
["Central memory CD8 T cells",14.6,EES,CM_CD8,[3.41,5.03],T_35_50,[0.69,1.68],["0.75","1.00","1.25","1.50"],[3.5,4.95],[1.085,1.15],[3.5,3.9,4.95],[1.13,1.12,1.27],[1.05,1.09,1.03],None,None,0],
["Effector memeory CD4 T cells",14.5,EES,EM_CD4,[3.41,5.03],T_35_50,[0.58,1.89],["1.0","1.5"],[3.5,4.93],[1.19,1.115],[3.5,3.9,4.93],[1.23,1.18,1.24],[1.14,1.13,0.99],None,None,0],
["Effector memory CD8 T cells",14.6,EES,EM_CD8,[3.41,5.0],T_35_50,[0.78,2.86],["1.0","1.5","2.0","2.5"],[3.5,4.93],[1.57,0.94],[3.5,3.9,4.93],[1.63,1.43,1.08],[1.51,1.38,0.80],"correlation: -0.43","pvalue 5.4e-24",74],
["Gamma delta T cells",17.5,EES,GAMMA_DELTA,[3.42,5.0],T_35_50,[0.60,1.945],["1.0","1.5"],[3.5,4.93],[1.40,0.97],[3.5,3.9,4.93],[1.46,1.31,1.12],[1.34,1.26,0.82],"correlation: -0.32","pvalue 1.68e-13",78],
["Immature B cells",17.5,IMM_B_X,IMM_B_Y,[3.46,4.39],["3.6","3.8","4.0","4.2"],[0.67,2.51],["1.0","1.5","2.0","2.5"],[3.5,4.34],[1.53,1.07],[3.5,3.85,4.34],[1.72,1.40,1.36],[1.35,1.28,0.76],"correlation: -0.24","pvalue 0.04",72],
["Immature dendritic cells",15.8,EES,IMM_DC,[3.41,5.03],T_35_50,[1.135,2.40],["1.2","1.5","1.8","2.1"],[3.5,4.95],[1.827,1.41],[3.5,3.9,4.95],[1.88,1.74,1.55],[1.77,1.68,1.27],"correlation: -0.34","pvalue 7.8e-15",76],
["Macrophage",17.5,MACRO_X,MACRO_Y,[3.48,4.067],["3.5","3.6","3.7","3.8","3.9","4.0"],[0.72,1.567],["0.8","1.0","1.2","1.4"],[3.508,4.04],[1.05,1.07],[3.508,3.8,4.04],[1.13,1.09,1.15],[0.96,1.02,0.98],None,None,0],
["Mast cells",17.5,MAST_X,MAST_Y,[3.497,4.47],["3.75","4.00","4.25"],[0.525,1.22],["0.6","0.8","1.0","1.2"],[3.54,4.43],[0.915,0.84],[3.54,3.9,4.43],[0.98,0.92,0.94],[0.85,0.86,0.73],None,None,0],
["Memory B cells",17.5,MEM_B_X,MEM_B_Y,[3.556,5.0],["4.0","4.5","5.0"],[0.607,1.334],["0.8","1.0","1.2"],[3.62,4.93],[0.868,0.813],[3.62,4.1,4.93],[0.90,0.87,0.92],[0.83,0.82,0.70],None,None,0],
["Monocyte",17.5,EES,MONOCYTE,[3.42,5.0],T_35_50,[1.54,2.477],["1.75","2.00","2.25"],[3.5,4.93],[2.027,2.0],[3.5,3.9,4.93],[2.07,2.04,2.06],[1.98,2.0,1.94],None,None,0],
["MyeloidDerived suppressor cell",14.4,EES,MDSC,[3.41,5.03],T_35_50,[1.15,3.26],["1.5","2.0","2.5","3.0"],[3.5,4.95],[2.08,1.44],[3.5,3.9,4.95],[2.15,1.87,1.60],[2.0,1.81,1.28],"correlation: -0.36","pvalue 4.8e-17",70],
["Natural killer T cells",17.5,NKT_X,NKT_Y,[3.48,3.98],["3.5","3.6","3.7","3.8","3.9"],[0.53,1.245],["0.6","0.8","1.0","1.2"],[3.5,3.958],[1.0,0.91],[3.5,3.76,3.958],[1.20,1.0,1.02],[0.82,0.90,0.76],None,None,0],
["Natural killer cells",17.5,EES,NK,[3.41,5.0],T_35_50,[0.92,2.197],["1.2","1.5","1.8","2.1"],[3.5,4.93],[1.57,1.13],[3.5,3.9,4.93],[1.63,1.41,1.22],[1.51,1.37,1.03],"correlation: -0.36","pvalue 5.02e-17",79],
["Plasmacytoid dendritic cells",16,EES,PDC,[3.42,5.0],T_35_50,[1.55,3.19],["1.6","2.0","2.4","2.8"],[3.5,4.93],[2.57,1.98],[3.5,3.9,4.93],[2.65,2.33,2.15],[2.47,2.27,1.80],"correlation: -0.35","pvalue 1.2e-15",74],
["Regulatory T cells",17.5,EES,TREG,[3.42,5.0],T_35_50,[0.66,1.95],["0.75","1.00","1.25","1.50","1.75"],[3.5,4.93],[1.21,1.18],[3.5,3.9,4.93],[1.25,1.22,1.30],[1.17,1.18,1.07],None,None,0],
["T follicular helper cells",17.5,EES,TFH,[3.41,5.03],T_35_50,[0.71,1.957],["0.75","1.00","1.25","1.50","1.75"],[3.5,4.95],[1.29,1.04],[3.5,3.9,4.95],[1.34,1.22,1.20],[1.24,1.18,0.88],"correlation: -0.19","pvalue 1.96e-05",70],
["Type 1 T helper cells",17.5,EES,TH1,[3.41,5.03],T_35_50,[1.29,2.457],["1.50","1.75","2.00","2.25"],[3.5,4.93],[1.90,1.567],[3.5,3.9,4.93],[1.95,1.82,1.75],[1.85,1.76,1.40],"correlation: -0.24","pvalue 1.0e-07",73],
["Type 2 T helper cells",17.5,EES,TH2,[3.49,5.0],T_35_50,[0.75,2.04],["0.75","1.00","1.25","1.50","1.75","2.00"],[3.57,4.93],[1.45,1.22],[3.57,4.1,4.93],[1.50,1.38,1.33],[1.40,1.33,1.08],"correlation: -0.19","pvalue 0.00091",74],
]

# ---------- Panel B data ----------
TISSUES = ["LIHC","COAD","STAD","TGCT","BLCA","CESC","ESCA","HNSC","LUSC","UCEC","LUAD","PRAD","ACC","KIRP","MESO","CHOL","KIRC","PCPG","THCA","BRCA","SKCM","GBM","LGG"]
TISSUE_COLORS = ["#9B5DE5","#E3D72A","#6E4E2E","#B8BE4B","#2B7A1E","#6FEA8F","#CDB5EF","#E8283C","#3567E0","#F04A20","#222B9B","#6F7F86","#BF80E6","#8BF0D2","#F5A263","#8B0A0A","#B3A090","#8877EE","#5FD8EE","#EE6A9A","#8BDF6A","#7C6CE0","#90F040"]
SITES = [1.3,4.5,9.45,14.4,16.0,18.0,23.2,28.5,35.5,39.2,41.7,46.3,46.65,47.1,51.6,57.0,59.8,68.4]
SIGNAL = [
[0,0,2,7,8,22,6,8,2,6,3,25,14,16,10,15,4,1],
[6,11,3,3,6,5,1,1,1,6,7,17,11,12,1,12,3,3],
[6,8,1,6,3,2,0,1,1,3,3,13,8,7,1,8,3,2],
[0,9,2,1,1,0,0,0,6,1,0,6,3,2,1,6,4,10],
[0,4,2,0,0,0,0,3,0,0,1,14,8,8,0,15,3,10],
[0,0,2,0,0,0,0,2,0,0,0,6,5,4,1,9,1,5],
[1,3,0,2,1,0,0,0,0,0,0,10,5,7,2,8,3,6],
[0,3,1,0,0,0,0,2,0,0,0,9,5,4,2,9,2,6],
[0,4,0,0,0,0,0,0,0,0,0,9,5,5,3,8,2,4],
[0,5,2,4,1,0,1,1,2,0,0,11,8,7,0,3,1,3],
[0,3,0,3,0,0,0,2,0,2,1,12,5,6,1,8,3,1],
[0,4,1,1,1,1,0,1,0,3,0,11,6,6,1,7,3,2],
[6,0,0,0,0,0,1,1,2,0,0,25,14,14,12,13,3,2],
[0,0,0,0,0,1,3,13,1,1,6,20,9,9,0,7,4,0],
[0,0,1,0,0,0,0,13,1,3,0,12,6,8,2,7,3,0],
[1,4,1,0,0,0,0,9,3,3,0,14,7,7,1,12,3,2],
[0,0,3,0,0,0,1,5,0,1,0,15,7,6,2,9,3,0],
[0,4,0,10,0,0,0,0,0,2,0,19,8,12,0,4,3,0],
[0,0,1,0,0,0,0,0,0,0,0,11,5,3,7,5,2,0],
[0,3,1,0,0,0,0,3,0,0,0,7,5,4,1,4,1,4],
[0,0,0,0,0,0,0,0,0,0,0,10,5,3,0,1,2,0],
[0,0,0,0,0,0,0,0,0,1,0,9,5,3,1,3,2,2],
[0,0,0,0,0,0,0,0,0,0,0,8,5,3,0,1,1,3]]
LOW_SITES = {"LIHC":[12.5,14.9,16.6,17.2,17.6,19.5,21.2,22.5,24.0,29.0,34.5,38.3,40.3,42.0,49.0,50.6,52.3,56.0,56.4,61.0,64.0],
             "COAD":[1.7,17.0,38.7,39.9,41.0,42.6],"STAD":[16.8,18.5,41.2],"BLCA":[56.3,57.6,59.4,68.0,68.9],"KIRP":[28.9,29.5,41.0,42.0]}
LOW_HEIGHTS = {"LIHC":[2,3,3,5,7,2,2,2,2,3,2,2,2,2,1.5,3,2,2.5,3,1.5,1],
               "COAD":[2,3,3,2,3,2],"STAD":[2,1.5,2],"BLCA":[3,4,2,4,4],"KIRP":[7,3,3,3]}
WINDOW_KB = 70.775
IGSF23_EXON_START = [16.0,26.05,29.83,37.78,38.85]
IGSF23_EXON_END = [16.1,26.3,29.93,37.85,39.2]
PVR_EXON_START = [46.2,49.65,52.2,56.32,60.25,61.25,63.75,64.2]
PVR_EXON_END = [46.6,50.1,52.55,56.45,60.38,61.55,63.85,68.74]
IGSF23_MARKS = [17.2,18.4,19.6,20.8,22.0,23.2,24.4,25.4,27.0,28.2,31.0,32.2,33.4,34.6,35.8,37.0,38.4]
PVR_MARKS = [47.2,48.0,48.8,51.0,53.2,54.2,55.2,57.2,58.2,59.2,62.4,63.1]
MERGES = [(1,2,829),(5,6,826),(7,8,825),(9,10,829),(24,25,827),(26,27,832),(28,11,836),(3,4,834),(30,29,840),(23,31,845),
          (21,22,824),(20,33,828),(19,34,830),(17,18,835),(35,36,839),(13,14,834),(15,16,830),(38,39,838),(37,40,842),(12,41,846),(32,42,852),(0,43,873)]
FAN_X = [816,855,950,950,855,816]
FAN_Y = [1484,1484,1180,1780,1517,1517]

PATIENTS = ["TCGA-EJ-A8FP","TCGA-EJ-A7NG","TCGA-YL-A8SB","TCGA-EJ-A46D","TCGA-EJ-A7NM","TCGA-VN-A88K","TCGA-YL-A8SB"]
PATIENT_SITES = [4.7,14.5,18.5,41.3,42.0,46.1,46.6,47.0,56.7,59.3,64.3,68.2]
PATIENT_SIGNAL = [[4,0,0,2,1,10,8,3,9,2,4,1],[7,0,0,3,3,9,8,6,5,4,1,1],[11,1,4,8,9,22,15,5,9,3,3,9],[8,0,0,3,7,11,10,8,7,2,1,3],
                  [12,5,1,8,6,25,12,5,9,1,2,8],[9,2,5,6,7,21,12,8,11,3,2,1],[5,1,2,8,9,23,10,5,7,3,6,5]]
ATAC_X = [2.8,3.26,2.94,3.86,4.2,4.68,4.83,4.77,4.92,4.92,5.02,5.19,5.34,5.5,6.1,6.7,7.1,7.39,8.0,8.1,8.64,9.24,10.6,10.7,13.6,14.47]
RPKM_Y = [1050,1040,912,1205,1178,926,877,810,1080,926,1244,916,1256,824,870,1006,1498,1141,1109,1109,1281,1353,1369,1543,1945,1609]
ATAC_FIT_X, ATAC_FIT_Y = [2.8,14.5],[885,1700]
ATAC_BAND_X, ATAC_BAND_UP, ATAC_BAND_LO = [2.8,5,8,10,14.5],[1000,1140,1330,1470,1895],[770,960,1210,1310,1500]

# ---------- Panel C data ----------
NODE_NAMES = ["KLF1","FOXI2","ZNF626","ZNF569","SMN1","AR","MED1","TAF7L","RAB6A","GOLGA2","CCAR1","NCOA2","E2F7","E2F1","NR1H4"]
NODE_X = [1824.5,1709,1558,1533,1634,1772,1884,2019,1499,1600,1735,1859,1707,1809,1914]
NODE_Y = [143,289,281,377,405,393,368,442,501,552,508,506,735,731,731]
NODE_COLORS = ["#7FEFF6"]*5+["#CC4B7B","#CC4B7B"]+["#7FEFF6"]*8
EDGES = [("KLF1","FOXI2"),("KLF1","AR"),("KLF1","NCOA2"),("FOXI2","ZNF626"),("FOXI2","ZNF569"),("AR","SMN1"),("AR","MED1"),("AR","CCAR1"),("AR","NCOA2"),("AR","E2F1"),("AR","NR1H4"),("MED1","CCAR1"),("MED1","NCOA2"),("MED1","NR1H4"),("NCOA2","TAF7L"),("NCOA2","NR1H4"),("CCAR1","GOLGA2"),("GOLGA2","RAB6A"),("E2F7","E2F1")]

# ---------- Panels D, E, F data ----------
D_CATS, D_VALS, D_ERR = ["Control","AR-siExon1"],[2985,1835],[100,150]
E_CATS, E_VALS, E_ERR = ["AR-high","AR-low"],[10.25,8.95],[0.75,0.02]
F_CATS = ["Pre\u2212treament ( 7 )","Post\u2212Treatment ( 7 )"]
F_Q1, F_MED, F_Q3 = [3.41,2.63],[3.46,2.745],[3.68,2.865]
F_LOW, F_HIGH = [3.356,2.33],[3.87,3.18]
F_OUT_X, F_OUT_Y = [0,0],[4.35,2.91]
BLUE, RED = "#3086C4","#AD2255"

# ---------- helpers ----------
fig = go.Figure()
layout = {}
shapes = []
annos = []
axis_n = [1]

def TX(x):
    return 1.011*x-6.5

def TY(y):
    return 1.0115*y-10.5

def clamp(v):
    return max(0.0, min(1.0, v))

def new_axes(x0, x1, y0, y1, xa, ya):
    axis_n[0] += 1
    n = axis_n[0]
    layout[f"xaxis{n}"] = dict(domain=[clamp(TX(x0)/W), clamp(TX(x1)/W)], anchor=f"y{n}", **xa)
    layout[f"yaxis{n}"] = dict(domain=[clamp(1-TY(y1)/H), clamp(1-TY(y0)/H)], anchor=f"x{n}", **ya)
    return f"x{n}", f"y{n}"

def rect(x0, y0, x1, y1, fill=None, line=None, lw=0, layer="below"):
    shapes.append(dict(type="rect", xref="paper", yref="paper", x0=TX(x0)/W, x1=TX(x1)/W, y0=1-TY(y1)/H, y1=1-TY(y0)/H,
                       fillcolor=fill or "rgba(0,0,0,0)", line=dict(color=line or "rgba(0,0,0,0)", width=lw), layer=layer))

def text(x, y, s, size, color="#000", family=SANS, anchor="center", angle=0, bold=False):
    if bold:
        s = f"<b>{s}</b>"
    annos.append(dict(xref="paper", yref="paper", x=TX(x)/W, y=1-TY(y)/H, text=s, showarrow=False, xanchor=anchor, yanchor="middle",
                      font=dict(size=size, color=color, family=family), textangle=angle))

HIDE = dict(visible=False, fixedrange=True)

def peaks(sites, heights, w=0.36):
    xs, ys = [], []
    for p, h in zip(sites, heights):
        if h <= 0:
            continue
        xs += [p-w, p-w*0.5, p-w*0.14, p+w*0.14, p+w*0.5, p+w, None]
        ys += [0, h*0.4, h, h, h*0.4, 0, None]
    return xs, ys

def track(x0, x1, top, base, sites, heights, color):
    xa, ya = new_axes(x0, x1, top, base, dict(range=[0, WINDOW_KB], **HIDE), dict(range=[0, base-top], **HIDE))
    fig.add_trace(go.Scatter(x=[0, WINDOW_KB], y=[0, 0], mode="lines", line=dict(color="#D8DCDC", width=2), xaxis=xa, yaxis=ya, hoverinfo="skip"))
    fig.add_trace(go.Scatter(x=[1, WINDOW_KB-1], y=[0.3, 0.3], mode="lines", line=dict(color=color, width=1.3, dash="5px,6px"), xaxis=xa, yaxis=ya, hoverinfo="skip"))
    xs, ys = peaks(sites, heights)
    fig.add_trace(go.Scatter(x=xs, y=ys, mode="lines", fill="toself", fillcolor=color, line=dict(color=color, width=0.6), xaxis=xa, yaxis=ya, hoverinfo="skip"))

def gene_model(x0, x1, top, bottom, ex_s, ex_e, marks, color, thick_last):
    xa, ya = new_axes(x0, x1, top, bottom, dict(range=[0, WINDOW_KB], **HIDE), dict(range=[0, 1], **HIDE))
    fig.add_trace(go.Scatter(x=[ex_s[0], ex_e[-1]], y=[0.5, 0.5], mode="lines", line=dict(color=color, width=1.3), xaxis=xa, yaxis=ya, hoverinfo="skip"))
    fig.add_trace(go.Scatter(x=marks, y=[0.5]*len(marks), mode="markers", marker=dict(symbol="line-ns", size=5, line=dict(color=color, width=1)), xaxis=xa, yaxis=ya, hoverinfo="skip"))
    xs, ys = [], []
    for i, (a, b) in enumerate(zip(ex_s, ex_e)):
        lo, hi = (0.2, 0.8) if (thick_last and i == len(ex_s)-1) else (0, 1)
        xs += [a, b, b, a, a, None]
        ys += [lo, lo, hi, hi, lo, None]
    fig.add_trace(go.Scatter(x=xs, y=ys, mode="lines", fill="toself", fillcolor=color, line=dict(color=color, width=1), xaxis=xa, yaxis=ya, hoverinfo="skip"))

# full-figure drawing layer (axis 1): its units follow the same TX/TY placement
layout["xaxis"] = dict(domain=[0, 1], range=[(0+6.5)/1.011, (W+6.5)/1.011], **HIDE)
layout["yaxis"] = dict(domain=[0, 1], range=[(H+10.5)/1.0115, (0+10.5)/1.0115], **HIDE)

# ---------- Panel A ----------
COLS = [(92,297),(350,555),(604,809),(858,1062),(1107,1311)]
ROWS = [(75,98,221),(255,278,400),(439,462,585),(619,642,764),(798,821,943)]
for i, p in enumerate(PANELS):
    title, tsize, xs, ys, xr, xt, yr, yt, fx, fy, bx, bu, bl, n1, n2, ndx = p
    r, c = divmod(i, 5)
    x0, x1 = COLS[c]
    st, pt, pb = ROWS[r]
    rect(x0, st, x1, pt, fill="#CFD8D8")
    rect(x0, pt, x1, pb, fill="#E5E9E9")
    text((x0+x1)/2, (st+pt)/2, title, tsize, "#1A1A1A", NARROW)
    xv, yv = [float(t) for t in xt], [float(t) for t in yt]
    ax_common = dict(showline=False, zeroline=False, ticks="outside", ticklen=3, tickcolor="#333",
                     tickfont=dict(family=NARROW, size=17, color="#4D4D4D"), gridcolor="#FFFFFF", gridwidth=1.4, fixedrange=True)
    xa, ya = new_axes(x0, x1, pt, pb,
        dict(range=xr, tickmode="array", tickvals=xv, ticktext=xt, ticklabelshift=4, ticklabelstandoff=-3,
             minor=dict(tickmode="linear", tick0=xv[0], dtick=(xv[1]-xv[0])/2, showgrid=True, gridcolor="#FFFFFF", gridwidth=0.6, ticks=""), **ax_common),
        dict(range=yr, tickmode="array", tickvals=yv, ticktext=yt,
             minor=dict(tickmode="linear", tick0=yv[0], dtick=(yv[1]-yv[0])/2, showgrid=True, gridcolor="#FFFFFF", gridwidth=0.6, ticks=""), **ax_common))
    if len(xs) != len(ys):
        print("length mismatch", title, len(xs), len(ys))
    fig.add_trace(go.Scatter(x=xs, y=ys, mode="markers", marker=dict(color="#0F0F0F", size=7), xaxis=xa, yaxis=ya, hoverinfo="skip"))
    fig.add_trace(go.Scatter(x=bx+bx[::-1], y=bu+bl[::-1], mode="lines", fill="toself", fillcolor="rgba(135,145,145,0.42)", line=dict(width=0), xaxis=xa, yaxis=ya, hoverinfo="skip"))
    fig.add_trace(go.Scatter(x=fx, y=fy, mode="lines", line=dict(color="#3F6FE0", width=3.6), xaxis=xa, yaxis=ya, hoverinfo="skip"))
    if n1:
        text(x0+ndx, pt+10, n1, 16.5, "#E8262C", SERIF, anchor="left")
        text(x0+ndx, pt+31, n2, 16.5, "#E8262C", SERIF, anchor="left")

text(30, 33, "A", 35, "#000", SANS, bold=True)
text(28, 1014, "B", 35, "#000", SANS, bold=True)
text(1411, 31, "C", 35, "#000", SANS, bold=True)
text(35, 434, "TCIA NES score", 31, "#000", SANS, angle=-90)
text(696, 985, "EES", 30, "#000", SANS)

# ---------- Panel B ----------
BX0, BX1 = 62, 816
TRACK_STEP = 31.8
fig.add_trace(go.Scatter(x=FAN_X, y=FAN_Y, mode="lines", fill="toself", line=dict(width=0),
                         fillgradient=dict(type="horizontal", colorscale=[[0, "#B4C3C7"], [0.45, "#DFE6E7"], [1, "#FFFFFF"]]), hoverinfo="skip"))
text(65, 1060, "chr19:45101058-45171833", 14.5, "#111", NARROW, anchor="left")
gene_model(BX0, BX1, 1091, 1103, IGSF23_EXON_START, IGSF23_EXON_END, IGSF23_MARKS, "#3A46E0", False)
gene_model(BX0, BX1, 1090, 1104, PVR_EXON_START, PVR_EXON_END, PVR_MARKS, "#1414E0", True)
text(361, 1117, "IGSF23", 15, "#111", NARROW)
text(690, 1117, "PVR", 15, "#111", NARROW)
for i, name in enumerate(TISSUES):
    base = 1165 + TRACK_STEP*i
    s_all = SITES + LOW_SITES.get(name, [])
    h_all = SIGNAL[i] + LOW_HEIGHTS.get(name, [])
    track(BX0, BX1, base-31, base, s_all, h_all, TISSUE_COLORS[i])
    text(56, base-18, name, 17.5, "#111", NARROW, anchor="right")
    text(65, base-25, "[0 - 133]", 9.5, "#111", NARROW, anchor="left")
rect(BX0, 1133, BX1, 1134, fill="#E6E6EA")
rect(BX0, 1072, BX1, 1865, line="#555", lw=1.6, layer="above")
rect(103, 1072, 117, 1865, fill="rgba(243,165,90,0.68)", layer="above")

# dendrogram
pos = {i: (819, 1149+TRACK_STEP*i) for i in range(len(TISSUES))}
dx, dy = [], []
for k, (a, b, h) in enumerate(MERGES):
    ha, ya_ = pos[a]
    hb, yb_ = pos[b]
    dx += [ha, h, h, hb, None]
    dy += [ya_, ya_, yb_, yb_, None]
    pos[len(TISSUES)+k] = (h, (ya_+yb_)/2)
fig.add_trace(go.Scatter(x=dx, y=dy, mode="lines", line=dict(color="#6F6F6F", width=1.3), hoverinfo="skip"))

# patient tracks
PX0, PX1 = 949, 1497
gene_model(PX0, PX1, 1208, 1220, IGSF23_EXON_START, IGSF23_EXON_END, IGSF23_MARKS, "#3A46E0", False)
gene_model(PX0, PX1, 1207, 1221, PVR_EXON_START, PVR_EXON_END, PVR_MARKS, "#1414E0", True)
text(1140, 1227, "IGSF23", 11.5, "#111", SANS)
text(1304, 1227, "PVR", 11.5, "#111", SANS)
rect(PX0, 1236, PX1, 1237, fill="#DDE2E2")
for i, name in enumerate(PATIENTS):
    base = [1269,1301,1333,1365,1397,1429,1462][i]
    track(PX0, PX1, base-30, base, PATIENT_SITES, PATIENT_SIGNAL[i], "#6F8385")
    text(1490, base-25, name, 21, "#111", WIDE, anchor="right")
rect(PX0, 1184, PX1, 1463, line="#555", lw=1.5, layer="above")
rect(982, 1184, 992, 1463, fill="rgba(243,165,90,0.68)", layer="above")

# ATAC scatter
rect(1005, 1486, 1263, 1754, fill="#E5E9E9")
xa, ya = new_axes(1005, 1263, 1486, 1754,
    dict(range=[2.2, 15], tickmode="array", tickvals=[5,10,15], ticks="outside", ticklen=2, tickcolor="#444", tickfont=dict(family=SANS, size=16, color="#444"),
         gridcolor="#FFFFFF", gridwidth=1.2, zeroline=False, fixedrange=True, ticklabelshift=4, ticklabelstandoff=-3, minor=dict(tickmode="linear", tick0=5, dtick=2.5, showgrid=True, gridcolor="#FFFFFF", gridwidth=0.5, ticks="")),
    dict(range=[705, 2000], tickmode="array", tickvals=[750,1000,1250,1500,1750,2000], ticks="outside", ticklen=3, tickcolor="#444", tickfont=dict(family=SANS, size=16, color="#444"),
         gridcolor="#FFFFFF", gridwidth=1.2, zeroline=False, fixedrange=True, minor=dict(tickmode="linear", tick0=750, dtick=125, showgrid=True, gridcolor="#FFFFFF", gridwidth=0.5, ticks="")))
fig.add_trace(go.Scatter(x=ATAC_BAND_X+ATAC_BAND_X[::-1], y=ATAC_BAND_UP+ATAC_BAND_LO[::-1], mode="lines", fill="toself", fillcolor="rgba(135,145,150,0.42)", line=dict(width=0), xaxis=xa, yaxis=ya, hoverinfo="skip"))
fig.add_trace(go.Scatter(x=ATAC_X, y=RPKM_Y, mode="markers", marker=dict(color="#111", size=2.2), xaxis=xa, yaxis=ya, hoverinfo="skip"))
fig.add_trace(go.Scatter(x=ATAC_FIT_X, y=ATAC_FIT_Y, mode="lines", line=dict(color="#3F6FE0", width=2), xaxis=xa, yaxis=ya, hoverinfo="skip"))
text(1016, 1518, "correlation:0.78", 17.5, "#E81C1C", SANS, anchor="left")
text(1136, 1785, "enhancer ATAC-seq Signal", 17.5, "#111", SANS)
text(953, 1606, "gene RPKM", 17.5, "#111", SANS, angle=-90)

# ---------- Panel C ----------
rect(1431, 76, 2120, 114, fill="#EF9C5B")
rect(1434, 767, 2123, 805, fill="#EF9C5B")
text(1766, 95, "Enhancer", 31, "#222", SERIF)
text(1802, 787, "PVR Promoter", 31.5, "#222", SERIF)
ex, ey = [], []
idx = {n: k for k, n in enumerate(NODE_NAMES)}
for a, b in EDGES:
    ex += [NODE_X[idx[a]], NODE_X[idx[b]], None]
    ey += [NODE_Y[idx[a]], NODE_Y[idx[b]], None]
fig.add_trace(go.Scatter(x=ex, y=ey, mode="lines", line=dict(color="#7F9497", width=2), hoverinfo="skip"))
fig.add_trace(go.Scatter(x=NODE_X, y=NODE_Y, mode="markers+text", text=NODE_NAMES, textposition="middle center",
                         textfont=dict(family=SANS, size=25, color="#000"), marker=dict(size=74, color=NODE_COLORS, line=dict(width=0)), hoverinfo="skip"))

# ---------- Panel D ----------
xa, ya = new_axes(1594, 1797, 892, 1184,
    dict(type="category", range=[-0.5, 1.5], showline=True, mirror=True, linecolor="#666", linewidth=1.6, ticks="", tickfont=dict(family=WIDE, size=18, color="#111"), fixedrange=True),
    dict(range=[0, 3500], tickmode="array", tickvals=[0,500,1000,1500,2000,2500,3000,3500], showgrid=False, zeroline=False, showline=True, mirror=True, linecolor="#666", linewidth=1.6, ticks="", tickfont=dict(family=WIDE, size=18, color="#111"), fixedrange=True))
fig.add_trace(go.Bar(x=D_CATS, y=D_VALS, width=0.36, marker=dict(color=[BLUE, RED], line=dict(width=0)),
                     error_y=dict(type="data", array=D_ERR, color="#333", thickness=1.2, width=1), xaxis=xa, yaxis=ya, hoverinfo="skip"))
text(1701, 846, "PVR", 24.5, "#111", WIDE)
text(1701, 878, "CWR22RV1 cell", 24.5, "#111", WIDE)
text(1531, 1010, "ReadCount", 25, "#111", NARROW, angle=-90)
text(1511, 845, "D", 60, "#111", SANS)

# ---------- Panel E ----------
xa, ya = new_axes(1898, 2099, 886, 1183,
    dict(type="category", range=[-0.5, 1.5], showline=True, mirror=True, linecolor="#222", linewidth=1.6, ticks="outside", ticklen=8, tickcolor="rgba(0,0,0,0)", tickfont=dict(family=WIDE, size=18.5, color="#4F6068"), fixedrange=True),
    dict(range=[-0.05, 12], tickmode="array", tickvals=[0,2,4,6,8,10,12], showgrid=False, zeroline=False, showline=True, mirror=True, linecolor="#222", linewidth=1.6, ticks="outside", ticklen=13, tickcolor="rgba(0,0,0,0)", tickfont=dict(family=WIDE, size=18, color="#4F6068"), fixedrange=True))
fig.add_trace(go.Bar(x=E_CATS, y=E_VALS, width=0.41, marker=dict(color=[BLUE, RED], line=dict(width=0)),
                     error_y=dict(type="data", array=E_ERR, color="#3C4A4F", thickness=2.2, width=2), xaxis=xa, yaxis=ya, hoverinfo="skip"))
text(1999, 842, "PVR", 24, "#222", WIDE)
text(1999, 873, "LNCap cell", 22.5, "#222", WIDE)
text(1843, 1033, "RPKM", 19.5, "#4F6068", NARROW, angle=-90)
text(1846, 845, "E", 60, "#111", SANS)

# ---------- Panel F ----------
xa, ya = new_axes(1625, 2103, 1336, 1783,
    dict(range=[-0.577, 1.577], tickmode="array", tickvals=[0,1], ticktext=F_CATS, showgrid=False, zeroline=False, showline=True, mirror=True, linecolor="#000", linewidth=2.4, ticks="outside", ticklen=4, tickcolor="#000", tickfont=dict(family=WIDE, size=17.7, color="#111"), fixedrange=True),
    dict(range=[2.25, 4.43], tickmode="array", tickvals=[2.5,3.0,3.5,4.0], ticktext=["2.5","3.0","3.5","4.0"], showgrid=False, zeroline=False, showline=True, mirror=True, linecolor="#000", linewidth=2.4, ticks="outside", ticklen=5, tickcolor="#000", tickfont=dict(family=WIDE, size=15, color="#111"), fixedrange=True))
for i, col in enumerate([BLUE, RED]):
    fig.add_trace(go.Scatter(x=[i, i, None, i, i], y=[F_Q3[i], F_HIGH[i], None, F_Q1[i], F_LOW[i]], mode="lines", line=dict(color="#000", width=1.8, dash="4px,4px"), xaxis=xa, yaxis=ya, hoverinfo="skip"))
    fig.add_trace(go.Scatter(x=[i-0.16, i+0.16, None, i-0.16, i+0.16], y=[F_HIGH[i], F_HIGH[i], None, F_LOW[i], F_LOW[i]], mode="lines", line=dict(color="#000", width=1.5), xaxis=xa, yaxis=ya, hoverinfo="skip"))
    fig.add_trace(go.Box(x=[i], q1=[F_Q1[i]], median=[F_MED[i]], q3=[F_Q3[i]], lowerfence=[F_Q1[i]], upperfence=[F_Q3[i]], width=0.8, fillcolor=col, line=dict(color="#000", width=2.6), boxpoints=False, whiskerwidth=0, xaxis=xa, yaxis=ya, hoverinfo="skip"))
fig.add_trace(go.Scatter(x=F_OUT_X, y=F_OUT_Y, mode="markers", marker=dict(symbol="circle-open", size=6, color="#000", line=dict(width=1.3)), xaxis=xa, yaxis=ya, hoverinfo="skip"))
text(1871, 1291, "PVR expression in", 23.5, "#111", WIDE)
text(1896, 1319, "Prostate_SRP026387_patients", 23.5, "#111", WIDE)
text(1572, 1552, "Log2 gene expression", 26, "#111", NARROW, angle=-90)
text(1583, 1281, "F", 60, "#111", SANS)

layout.update(width=W, height=H, margin=dict(l=0, r=0, t=0, b=0), paper_bgcolor="#FFFFFF", plot_bgcolor="rgba(0,0,0,0)",
              showlegend=False, shapes=shapes, annotations=annos, font=dict(family=SANS), bargap=0.2)
fig.update_layout(**layout)
fig.write_html("out.html", config={"displayModeBar": False}, post_script="document.body.style.margin='0';")
